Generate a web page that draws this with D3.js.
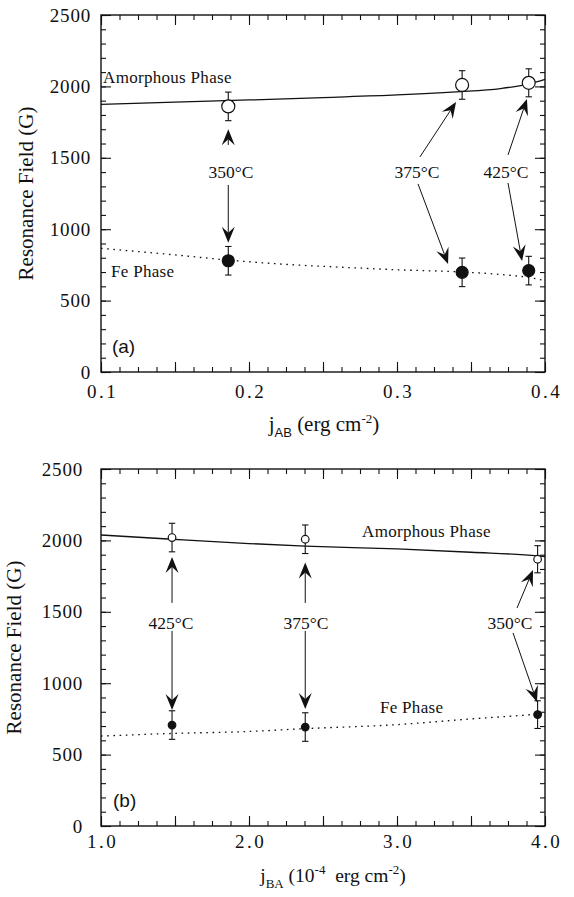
<!DOCTYPE html>
<html>
<head>
<meta charset="utf-8">
<script src="https://cdn.jsdelivr.net/npm/d3@7"></script>
<style>
  body { margin: 0; background: #fff; }
  svg { display: block; }
  text { fill: #111; }
</style>
</head>
<body>
<svg id="fig" width="574" height="897"></svg>
<script>
// ---------- Panel (a): resonance field vs j_AB ----------
const jAB = [0.186, 0.344, 0.389];
const amorphA = [1860, 2010, 2025];
const amorphErrA = [100, 100, 98];
const feA = [779, 698, 710];
const feErrA = [100, 100, 100];
// fitted curves
const amorphFitXA = [0.10, 0.15, 0.20, 0.25, 0.30, 0.34, 0.37, 0.39, 0.40];
const amorphFitYA = [1874, 1890, 1905, 1922, 1940, 1962, 1985, 2020, 2050];
const feFitXA = [0.10, 0.15, 0.186, 0.22, 0.27, 0.30, 0.344, 0.37, 0.39, 0.40];
const feFitYA = [866, 820, 784, 757, 730, 716, 700, 683, 660, 640];
const xTickLabelsA = ["0.1", "0.2", "0.3", "0.4"];
const xTickValuesA = [0.1, 0.2, 0.3, 0.4];
// annealing temperatures and their arrows (data units)
const tempLabelsA = ["350°C", "375°C", "425°C"];
const tempLabelXA = [0.1878, 0.3135, 0.3736];
const tempLabelYA = [1360, 1360, 1360];
const arrowUpA = [[0.186, 1590, 0.186, 1700], [0.3155, 1506, 0.3399, 1891], [0.375, 1520, 0.3878, 1912]];
const arrowDownA = [[0.186, 1310, 0.186, 905], [0.3142, 1317, 0.3345, 756], [0.375, 1324, 0.3845, 777]];

// ---------- Panel (b): resonance field vs j_BA ----------
const jBA = [1.48, 2.38, 3.95];
const amorphB = [2020, 2008, 1868];
const amorphErrB = [100, 100, 95];
const feB = [707, 693, 780];
const feErrB = [100, 100, 97];
const amorphFitXB = [1.0, 1.48, 2.0, 2.38, 3.0, 3.5, 3.95, 4.0];
const amorphFitYB = [2038, 2008, 1978, 1960, 1940, 1917, 1892, 1887];
const feFitXB = [1.0, 1.48, 2.0, 2.38, 3.0, 3.5, 3.95, 4.0];
const feFitYB = [630, 648, 662, 682, 710, 750, 784, 789];
const xTickLabelsB = ["1.0", "2.0", "3.0", "4.0"];
const xTickValuesB = [1.0, 2.0, 3.0, 4.0];
const tempLabelsB = ["425°C", "375°C", "350°C"];
const tempLabelXB = [1.473, 2.385, 3.764];
const tempLabelYB = [1380, 1380, 1380];
const arrowUpB = [[1.48, 1562, 1.48, 1884], [2.38, 1562, 2.38, 1845], [3.811, 1527, 3.919, 1793]];
const arrowDownB = [[1.48, 1366, 1.48, 812], [2.38, 1366, 2.38, 820], [3.784, 1352, 3.946, 868]];

// shared y axis
const yTickValues = [0, 500, 1000, 1500, 2000, 2500];
const yTickLabels = ["0", "500", "1000", "1500", "2000", "2500"];
const yTitle = "Resonance Field (G)";

const svg = d3.select("#fig");
const SERIF = "'Liberation Serif', 'Times New Roman', serif";
const SANS = "'Liberation Sans', Arial, sans-serif";

function drawPanel(p) {
  const x = d3.scaleLinear().domain(p.xDomain).range([p.left, p.right]);
  const y = d3.scaleLinear().domain([0, 2500]).range([p.bottom, p.top]);
  const g = svg.append("g");

  // tick marks on all four sides, pointing inward
  const xMajor = d3.range(p.xDomain[0], p.xDomain[1] + 1e-9, p.xStep);
  const xMinor = d3.range(p.xDomain[0], p.xDomain[1] + 1e-9, p.xStep / 4);
  const yMajor = d3.range(0, 2501, 500);
  const yMinor = d3.range(0, 2501, 100);
  const tickStyle = sel => {
    sel.select(".domain").remove();
    sel.selectAll("line").attr("stroke", "#111").attr("stroke-width", 1.1);
  };
  const addTicks = (axisFn, scale, vals, size, transform) => {
    g.append("g").attr("transform", transform)
      .call(axisFn(scale).tickValues(vals).tickSize(-size).tickFormat(""))
      .call(tickStyle);
  };
  addTicks(d3.axisBottom, x, xMinor, 5, `translate(0,${p.bottom})`);
  addTicks(d3.axisBottom, x, xMajor, 10, `translate(0,${p.bottom})`);
  addTicks(d3.axisTop, x, xMinor, 5, `translate(0,${p.top})`);
  addTicks(d3.axisTop, x, xMajor, 10, `translate(0,${p.top})`);
  addTicks(d3.axisLeft, y, yMinor, 5, `translate(${p.left},0)`);
  addTicks(d3.axisLeft, y, yMajor, 10, `translate(${p.left},0)`);
  addTicks(d3.axisRight, y, yMinor, 5, `translate(${p.right},0)`);
  addTicks(d3.axisRight, y, yMajor, 10, `translate(${p.right},0)`);

  // tick labels
  const yl = g.append("g").attr("transform", `translate(${p.left},0)`)
    .call(d3.axisLeft(y).tickValues(yTickValues).tickSize(0)
      .tickPadding(p.yLabelPad).tickFormat((d, i) => yTickLabels[i]));
  yl.select(".domain").remove();
  yl.selectAll("text").attr("font-family", SERIF).attr("font-size", 19)
    .attr("letter-spacing", 0.8).attr("fill", "#111");

  const xl = g.append("g").attr("transform", `translate(0,${p.bottom})`)
    .call(d3.axisBottom(x).tickValues(p.xTickValues).tickSize(0)
      .tickPadding(p.xLabelPad).tickFormat((d, i) => p.xTickLabels[i]));
  xl.select(".domain").remove();
  xl.selectAll("text").attr("font-family", SERIF).attr("font-size", 19)
    .attr("letter-spacing", 2.5).attr("dx", 1.2).attr("fill", "#111");

  // frame
  g.append("rect").attr("x", p.left).attr("y", p.top)
    .attr("width", p.right - p.left).attr("height", p.bottom - p.top)
    .attr("fill", "none").attr("stroke", "#111").attr("stroke-width", 1.4);

  // axis titles
  g.append("text")
    .attr("transform", `translate(${p.yTitleX},${(p.top + p.bottom) / 2}) rotate(-90)`)
    .attr("text-anchor", "middle").attr("font-family", SERIF).attr("font-size", 21)
    .text(yTitle);

  const xt = g.append("text").attr("x", (p.left + p.right) / 2 + p.xTitleShift)
    .attr("y", p.xTitleY).attr("text-anchor", "middle")
    .attr("font-family", SERIF).attr("font-size", p.xTitleSize)
    .attr("xml:space", "preserve");
  p.xTitle.forEach(part => {
    const t = xt.append("tspan").text(part.t);
    if (part.sub) t.attr("font-size", 13).attr("dy", 6).attr("font-family", part.font || SERIF);
    if (part.sup) t.attr("font-size", 13).attr("dy", -8);
    if (part.back) t.attr("dy", part.back);
  });

  // fitted curves
  const line = d3.line().x(d => x(d[0])).y(d => y(d[1])).curve(d3.curveMonotoneX);
  g.append("path").datum(d3.zip(p.amorphFitX, p.amorphFitY)).attr("d", line)
    .attr("fill", "none").attr("stroke", "#111").attr("stroke-width", 1.3);
  g.append("path").datum(d3.zip(p.feFitX, p.feFitY)).attr("d", line)
    .attr("fill", "none").attr("stroke", "#111").attr("stroke-width", 1.3)
    .attr("stroke-dasharray", "1.6,4.6");

  // error bars and points
  const drawSeries = (vals, errs, open) => {
    const pts = d3.zip(p.xs, vals, errs);
    const eb = g.append("g").attr("stroke", "#111").attr("stroke-width", 1.1);
    pts.forEach(([xv, yv, e]) => {
      eb.append("line").attr("x1", x(xv)).attr("x2", x(xv)).attr("y1", y(yv - e)).attr("y2", y(yv + e));
      [yv - e, yv + e].forEach(c => eb.append("line")
        .attr("x1", x(xv) - 3.2).attr("x2", x(xv) + 3.2).attr("y1", y(c)).attr("y2", y(c)));
    });
    g.append("g").selectAll("circle").data(pts).join("circle")
      .attr("cx", d => x(d[0])).attr("cy", d => y(d[1])).attr("r", open ? p.rOpen : p.rFill)
      .attr("fill", open ? "#fff" : "#111").attr("stroke", "#111").attr("stroke-width", 1.2);
  };
  drawSeries(p.amorph, p.amorphErr, true);
  drawSeries(p.fe, p.feErr, false);

  // phase labels and panel tag
  const addText = (t, xv, yv, size, font) => g.append("text").attr("x", x(xv)).attr("y", y(yv))
    .attr("font-family", font).attr("font-size", size).text(t);
  addText("Amorphous Phase", p.amorphLabel[0], p.amorphLabel[1], 17, SERIF).attr("letter-spacing", 0.3);
  addText("Fe Phase", p.feLabel[0], p.feLabel[1], 17, SERIF).attr("letter-spacing", 0.3);
  addText(p.tag, p.tagPos[0], p.tagPos[1], 19, SANS);

  // temperature annotations
  p.tempLabels.forEach((t, i) => {
    g.append("text").attr("x", x(p.tempX[i])).attr("y", y(p.tempY[i]))
      .attr("text-anchor", "middle").attr("font-family", SERIF).attr("font-size", 17.5)
      .text(t);
  });
  const arrow = a => {
    const x0 = x(a[0]), y0 = y(a[1]), x1 = x(a[2]), y1 = y(a[3]);
    const len = Math.hypot(x1 - x0, y1 - y0);
    const ux = (x1 - x0) / len, uy = (y1 - y0) / len;
    const nx = -uy, ny = ux;
    const L = 16, N = 10, W = 6.5;
    g.append("line").attr("x1", x0).attr("y1", y0)
      .attr("x2", x1 - ux * N).attr("y2", y1 - uy * N)
      .attr("stroke", "#111").attr("stroke-width", 1);
    const head = [
      [x1, y1],
      [x1 - ux * L + nx * W, y1 - uy * L + ny * W],
      [x1 - ux * N, y1 - uy * N],
      [x1 - ux * L - nx * W, y1 - uy * L - ny * W]
    ];
    g.append("path").attr("d", "M" + head.map(q => q.join(",")).join("L") + "Z").attr("fill", "#111");
  };
  p.arrowsUp.forEach(arrow);
  p.arrowsDown.forEach(arrow);
}

drawPanel({
  top: 15, bottom: 372, left: 101, right: 545,
  xDomain: [0.1, 0.4], xStep: 0.05,
  xTickValues: xTickValuesA, xTickLabels: xTickLabelsA,
  yLabelPad: 10, xLabelPad: 13,
  yTitleX: 33, xTitleY: 431, xTitleShift: 1, xTitleSize: 21,
  xTitle: [{ t: "j" }, { t: "AB", sub: true, font: SANS }, { t: " (erg cm", back: -6 }, { t: "-2", sup: true }, { t: ")", back: 8 }],
  xs: jAB, amorph: amorphA, amorphErr: amorphErrA, fe: feA, feErr: feErrA,
  amorphFitX: amorphFitXA, amorphFitY: amorphFitYA, feFitX: feFitXA, feFitY: feFitYA,
  rOpen: 6.5, rFill: 6,
  amorphLabel: [0.1014, 2024], feLabel: [0.1068, 665], tag: "(a)", tagPos: [0.1074, 133],
  tempLabels: tempLabelsA, tempX: tempLabelXA, tempY: tempLabelYA,
  arrowsUp: arrowUpA, arrowsDown: arrowDownA
});

drawPanel({
  top: 469, bottom: 826, left: 101, right: 545,
  xDomain: [1.0, 4.0], xStep: 0.5,
  xTickValues: xTickValuesB, xTickLabels: xTickLabelsB,
  yLabelPad: 18, xLabelPad: 9,
  yTitleX: 21, xTitleY: 882, xTitleShift: 10, xTitleSize: 19.5,
  xTitle: [{ t: "j" }, { t: "BA", sub: true }, { t: " (10", back: -6 }, { t: "-4", sup: true }, { t: "  erg cm", back: 8 }, { t: "-2", sup: true }, { t: ")", back: 8 }],
  xs: jBA, amorph: amorphB, amorphErr: amorphErrB, fe: feB, feErr: feErrB,
  amorphFitX: amorphFitXB, amorphFitY: amorphFitYB, feFitX: feFitXB, feFitY: feFitYB,
  rOpen: 3.8, rFill: 3.8,
  amorphLabel: [2.764, 2024], feLabel: [2.885, 791], tag: "(b)", tagPos: [1.081, 133],
  tempLabels: tempLabelsB, tempX: tempLabelXB, tempY: tempLabelYB,
  arrowsUp: arrowUpB, arrowsDown: arrowDownB
});
</script>
</body>
</html>
